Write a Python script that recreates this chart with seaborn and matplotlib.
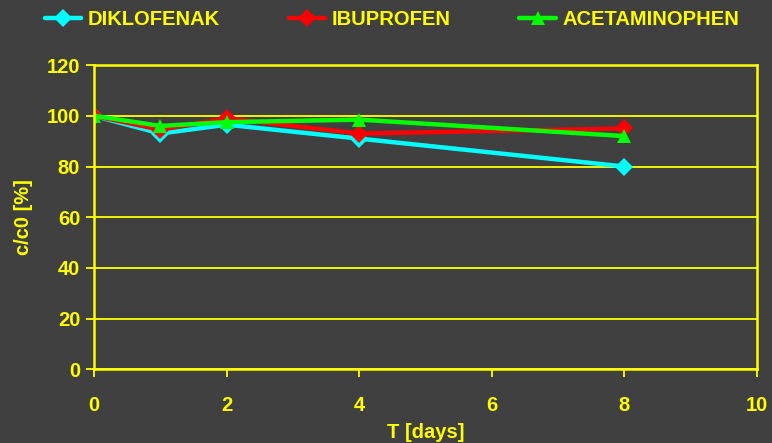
import matplotlib
matplotlib.use("Agg")
import matplotlib.pyplot as plt
from matplotlib import font_manager
import seaborn as sns
import pandas as pd

days = [0, 1, 2, 4, 8]
diklofenak = [100, 93, 96.5, 91, 80]
ibuprofen = [100, 94.5, 99, 93, 95]
acetaminophen = [100, 96, 97.5, 98.5, 92]

series_names = ["DIKLOFENAK", "IBUPROFEN", "ACETAMINOPHEN"]
series_colors = ["#00FFFF", "#FF0000", "#00FF00"]
series_markers = ["D", "D", "^"]

x_ticks = [0, 2, 4, 6, 8, 10]
y_ticks = [0, 20, 40, 60, 80, 100, 120]

bg = "#404040"
fg = "#FFFF00"

sns.set_theme(style="dark")
names = {f.name for f in font_manager.fontManager.ttflist}
family = ["Liberation Sans Narrow", "Liberation Sans", "DejaVu Sans"]
family = [f for f in family if f in names] or ["DejaVu Sans"]
plt.rcParams["font.family"] = family
plt.rcParams["font.weight"] = "bold"

df = pd.DataFrame({
    "T": days * 3,
    "c": diklofenak + ibuprofen + acetaminophen,
    "series": sum([[n] * len(days) for n in series_names], []),
})

fig = plt.figure(figsize=(7.72, 4.43), dpi=100, facecolor=bg)
ax = fig.add_axes([0.1218, 0.1664, 0.8588, 0.6866])
ax.set_facecolor(bg)

sns.lineplot(
    data=df, x="T", y="c", hue="series", style="series",
    palette=dict(zip(series_names, series_colors)),
    markers=dict(zip(series_names, series_markers)),
    dashes=False, linewidth=3.2, markersize=9.5, markeredgewidth=0,
    ax=ax, legend=False, sort=False,
)

ax.set_xlim(0, 10)
ax.set_ylim(0, 120)
ax.set_xticks(x_ticks)
ax.set_yticks(y_ticks)
ax.grid(axis="y", color=fg, linewidth=1.3)
ax.grid(axis="x", visible=False)
for s in ax.spines.values():
    s.set_color(fg)
    s.set_linewidth(1.8)
ax.tick_params(axis="both", colors=fg, labelcolor=fg, labelsize=14.5,
               direction="out", length=6, width=1.3, bottom=True, left=True)
ax.tick_params(axis="x", pad=13)
ax.tick_params(axis="y", pad=4)
for lab in ax.get_xticklabels() + ax.get_yticklabels():
    lab.set_fontweight("bold")

ax.set_xlabel("T [days]", color=fg, fontsize=14.5, fontweight="bold", labelpad=6)
ax.set_ylabel("c/c0 [%]", color=fg, fontsize=14.5, fontweight="bold", labelpad=10)

handles = [
    plt.Line2D([], [], color=c, marker=m, linewidth=3.2, markersize=9.5,
               markeredgewidth=0)
    for c, m in zip(series_colors, series_markers)
]
leg = fig.legend(handles, series_names, loc="upper center", ncol=3,
                 bbox_to_anchor=(0.508, 1.018), frameon=False,
                 handlelength=1.8, handletextpad=0.35, columnspacing=3.4,
                 prop={"size": 14.5, "weight": "bold"})
for t in leg.get_texts():
    t.set_color(fg)

fig.savefig("out.png", dpi=100, facecolor=bg)
